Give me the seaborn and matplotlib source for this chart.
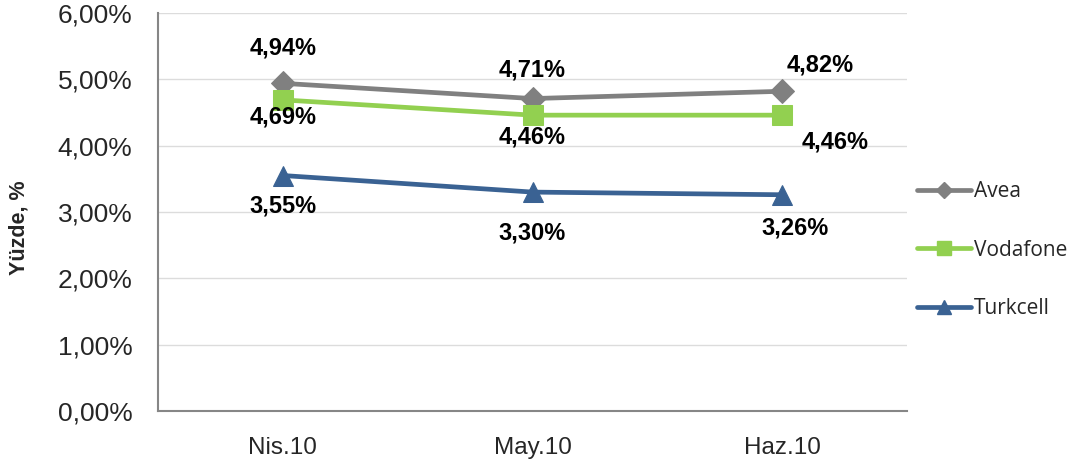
import matplotlib
matplotlib.use("Agg")
import matplotlib.pyplot as plt
import seaborn as sns
import pandas as pd
from matplotlib.ticker import FuncFormatter

months = ["Nis.10", "May.10", "Haz.10"]
avea = [4.94, 4.71, 4.82]
vodafone = [4.69, 4.46, 4.46]
turkcell = [3.55, 3.30, 3.26]
series_names = ["Avea", "Vodafone", "Turkcell"]
y_ticks = [0, 1, 2, 3, 4, 5, 6]

sns.set_style("white")
plt.rcParams['font.family'] = ['Liberation Sans', 'DejaVu Sans']

rows = []
for name, vals in zip(series_names, [avea, vodafone, turkcell]):
    for i, (m, v) in enumerate(zip(months, vals)):
        rows.append({"Ay": m, "x": i, "Seri": name, "Deger": v})
df = pd.DataFrame(rows)

colors = {"Avea": "#808080", "Vodafone": "#92D050", "Turkcell": "#3A6293"}
markers = {"Avea": "D", "Vodafone": "s", "Turkcell": "^"}
msizes = {"Avea": 12, "Vodafone": 14, "Turkcell": 14}

fig = plt.figure(figsize=(10.78, 4.65), dpi=100)
ax = fig.add_axes([158/1078, 54/465, (907-158)/1078, (411-13)/465])

for name in series_names:
    sub = df[df["Seri"] == name]
    sns.lineplot(data=sub, x="x", y="Deger", ax=ax, color=colors[name],
                 marker=markers[name], markersize=msizes[name],
                 markeredgecolor=colors[name], linewidth=3.4, label=name,
                 legend=False, sort=False)

# data label offsets in pixels (dx right, dy up)
offsets = {
    "Avea": [(0, 35), (0, 29), (38, 26)],
    "Vodafone": [(0, -17), (0, -22), (53, -27)],
    "Turkcell": [(0, -30), (0, -41), (13, -33)],
}
for name, vals in zip(series_names, [avea, vodafone, turkcell]):
    for i, v in enumerate(vals):
        dx, dy = offsets[name][i]
        ax.annotate(f"{v:.2f}%".replace(".", ","), (i, v), xytext=(dx * 0.72, dy * 0.72),
                    textcoords="offset points", ha="center", va="center",
                    fontsize=17, fontweight="bold", color="black")

ax.set_xlim(-0.5, 2.5)
ax.set_ylim(0, 6)
ax.set_yticks(y_ticks)
ax.yaxis.set_major_formatter(FuncFormatter(lambda v, p: f"{v:.2f}%".replace(".", ",")))
ax.set_xticks(range(len(months)))
ax.set_xticklabels(months)
ax.set_xticks([-0.5, 0.5, 1.5, 2.5], minor=True)
ax.tick_params(axis="x", which="major", length=0, labelsize=17.5, pad=19)
ax.tick_params(axis="x", which="minor", length=5, width=1.3, color="#868686")
ax.tick_params(axis="y", length=5, width=1.3, color="#868686", labelsize=19, pad=13.5)
ax.grid(axis="y", color="#DCDCDC", linewidth=1.0)
ax.set_axisbelow(True)
for s in ["top", "right"]:
    ax.spines[s].set_visible(False)
for s in ["left", "bottom"]:
    ax.spines[s].set_color("#868686")
    ax.spines[s].set_linewidth(1.5)
ax.set_xlabel("")
ax.set_ylabel("Yüzde, %", fontsize=15.5, fontweight="bold")
ax.yaxis.set_label_coords((30 - 158) / 749, 0.46)

handles = [plt.Line2D([], [], color=colors[n], marker=markers[n], markersize=msizes[n] * 0.7,
                      linewidth=3.4, markeredgecolor=colors[n]) for n in series_names]
fig.legend(handles, series_names, loc="center left", bbox_to_anchor=(898/1078, 1 - 250/465),
           frameon=False, handlelength=2.6, handletextpad=0.15,
           labelspacing=1.8, prop={'family': ['Open Sans', 'DejaVu Sans'], 'size': 15})

fig.savefig("out.png", dpi=100)
